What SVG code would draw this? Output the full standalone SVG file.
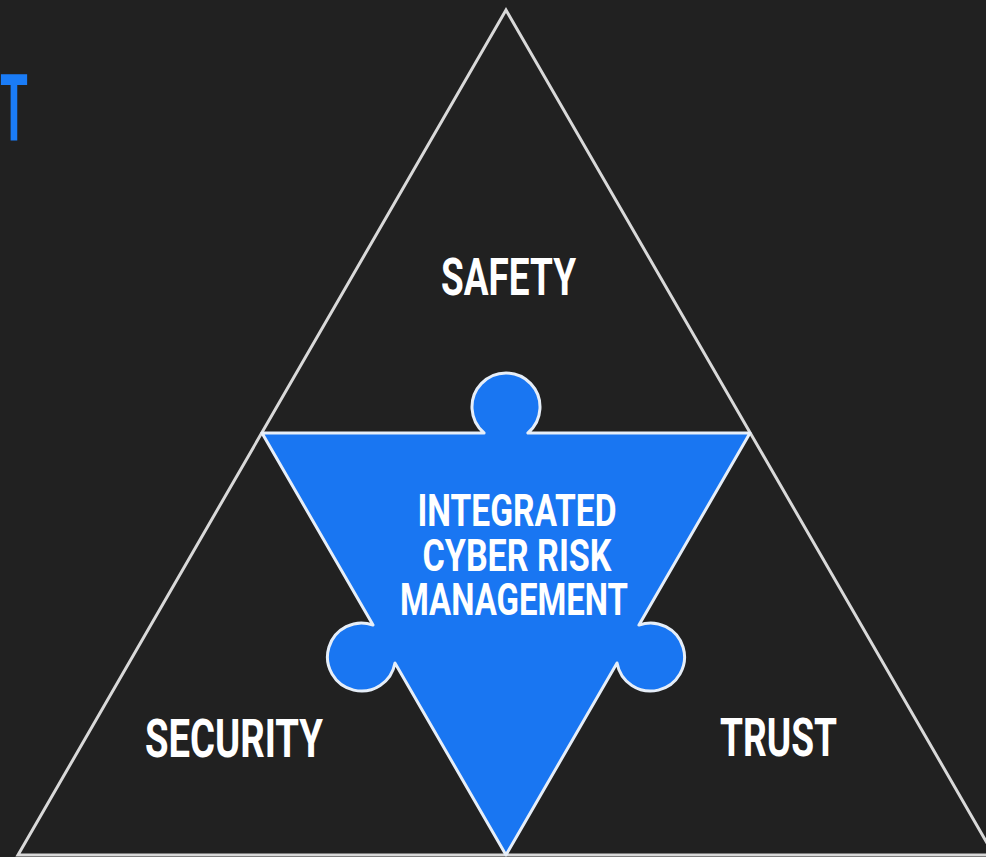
<svg xmlns="http://www.w3.org/2000/svg" width="986" height="857" viewBox="0 0 986 857">
  <style>
    .lbl { font-family: Roboto, "Liberation Sans", sans-serif; font-weight: bold; fill: #ffffff; text-anchor: middle; }
    .edge { fill: none; stroke: #d9d9d9; stroke-width: 3; stroke-linejoin: miter; }
  </style>
  <rect x="0" y="0" width="986" height="857" fill="#212121"/>
  <g id="title-fragment">
    <text x="14" y="140" class="lbl" style="fill:#1a7cf7" font-size="92" textLength="28" lengthAdjust="spacingAndGlyphs">T</text>
  </g>
  <g id="connectors">
    <path class="edge" d="M506,10 L18,855 L994,855 Z"/>
  </g>
  <g id="center">
    <path d="M262,433 L484.1,433 A34,34 0 1 1 527.9,433 L750,433 L638.96,625.04 A34,34 0 1 1 617.04,662.96 L506,855 L394.96,662.96 A34,34 0 1 1 373.04,625.04 Z" fill="#1976f2" stroke="#e6eef8" stroke-width="3" stroke-linejoin="round"/>
    <text x="517" y="526" class="lbl" font-size="44" textLength="199" lengthAdjust="spacingAndGlyphs">INTEGRATED</text>
    <text x="517" y="571" class="lbl" font-size="44" textLength="189" lengthAdjust="spacingAndGlyphs">CYBER RISK</text>
    <text x="514" y="615" class="lbl" font-size="44" textLength="228" lengthAdjust="spacingAndGlyphs">MANAGEMENT</text>
  </g>
  <g id="safety">
    <text x="508.5" y="295" class="lbl" font-size="52" textLength="135" lengthAdjust="spacingAndGlyphs">SAFETY</text>
  </g>
  <g id="security">
    <text x="234" y="757" class="lbl" font-size="54" textLength="178" lengthAdjust="spacingAndGlyphs">SECURITY</text>
  </g>
  <g id="trust">
    <text x="778.5" y="756" class="lbl" font-size="54" textLength="117" lengthAdjust="spacingAndGlyphs">TRUST</text>
  </g>
</svg>
